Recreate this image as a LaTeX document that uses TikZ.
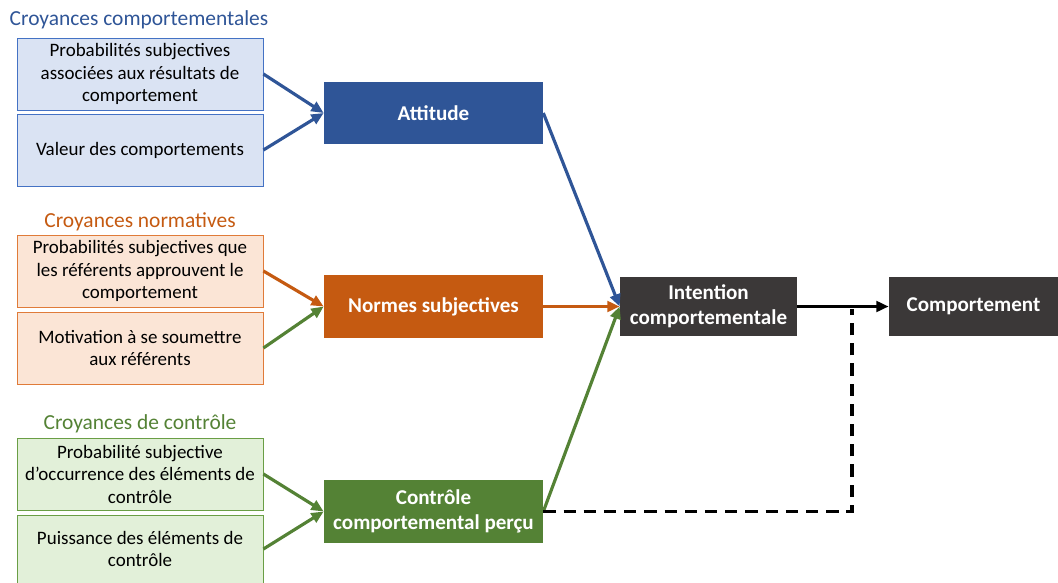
\documentclass[tikz,border=0pt]{standalone}
\usepackage{fontspec}
\setmainfont{Carlito}
\usetikzlibrary{arrows.meta}
\definecolor{bleu}{HTML}{2F5597}
\definecolor{bleuclair}{HTML}{DAE3F3}
\definecolor{bleubord}{HTML}{4472C4}
\definecolor{orange}{HTML}{C55A11}
\definecolor{orangeclair}{HTML}{FBE5D6}
\definecolor{orangebord}{HTML}{E07B39}
\definecolor{vert}{HTML}{548235}
\definecolor{vertclair}{HTML}{E2F0D9}
\definecolor{vertbord}{HTML}{6A9E45}
\definecolor{sombre}{HTML}{3B3838}

\begin{document}
\begin{tikzpicture}[x=0.02cm, y=-0.02cm,
    croyance/.style={draw, line width=0.5pt, minimum width=4.92cm, minimum height=1.44cm,
        align=center, inner sep=1pt, font=\fontsize{10.8}{12.8}\selectfont},
    facteur/.style={fill=#1, minimum width=4.38cm, minimum height=1.25cm, align=center,
        text=white, font=\fontsize{12}{14}\selectfont\bfseries},
    titre/.style={font=\fontsize{12.2}{14}\selectfont},
    fleche/.style={-{Triangle[length=7pt,width=6pt]}, line width=1.8pt}]
    \useasboundingbox (0,0) rectangle (1058,582);

    % Croyances comportementales
    \node[titre, text=bleu] (t1) at (139,20) {Croyances comportementales};
    \node[croyance, draw=bleubord, fill=bleuclair] (prob1) at (140,74)
        {Probabilités subjectives\\associées aux résultats de\\comportement};
    \node[croyance, draw=bleubord, fill=bleuclair] (valeur) at (140,150)
        {Valeur des comportements};
    \node[facteur=bleu] (attitude) at (433.5,113) {Attitude};

    % Croyances normatives
    \node[titre, text=orange] (t2) at (140,222) {Croyances normatives};
    \node[croyance, draw=orangebord, fill=orangeclair] (prob2) at (140,271)
        {Probabilités subjectives que\\les référents approuvent le\\comportement};
    \node[croyance, draw=orangebord, fill=orangeclair] (motiv) at (140,348)
        {Motivation à se soumettre\\aux référents};
    \node[facteur=orange] (normes) at (433.5,306.5) {Normes subjectives};

    % Croyances de controle
    \node[titre, text=vert] (t3) at (140,424) {Croyances de contrôle};
    \node[croyance, draw=vertbord, fill=vertclair] (prob3) at (140,474)
        {Probabilité subjective\\d’occurrence des éléments de\\contrôle};
    \node[croyance, draw=vertbord, fill=vertclair, minimum height=1.36cm] (puiss) at (140,549)
        {Puissance des éléments de\\contrôle};
    \node[facteur=vert] (controle) at (433.5,511.5) {Contrôle\\comportemental perçu};

    % Intention et comportement
    \node[facteur=sombre, minimum width=3.54cm, minimum height=1.18cm] (intention) at (708.5,306.5)
        {Intention\\comportementale};
    \node[facteur=sombre, minimum width=3.38cm, minimum height=1.18cm] (comport) at (973.5,306.5)
        {Comportement};

    % Fleches
    \draw[fleche, bleu] (prob1.east) -- (attitude.west);
    \draw[fleche, bleu] (valeur.east) -- (attitude.west);
    \draw[fleche, orange] (prob2.east) -- (normes.west);
    \draw[fleche, vert] (motiv.east) -- (normes.west);
    \draw[fleche, vert] (prob3.east) -- (controle.west);
    \draw[fleche, vert] (puiss.east) -- (controle.west);
    \draw[fleche, bleu] (attitude.east) -- (intention.west);
    \draw[fleche, orange] (normes.east) -- (intention.west);
    \draw[fleche, vert] (controle.east) -- (intention.west);
    \draw[fleche, black] (intention.east) -- (comport.west);
    \coordinate (coin) at (852,511.5);
    \coordinate (haut) at (852,309);
    \draw[line width=1.8pt, dash pattern=on 7pt off 4.5pt] (controle.east) -- (coin) -- (haut);
\end{tikzpicture}
\end{document}
